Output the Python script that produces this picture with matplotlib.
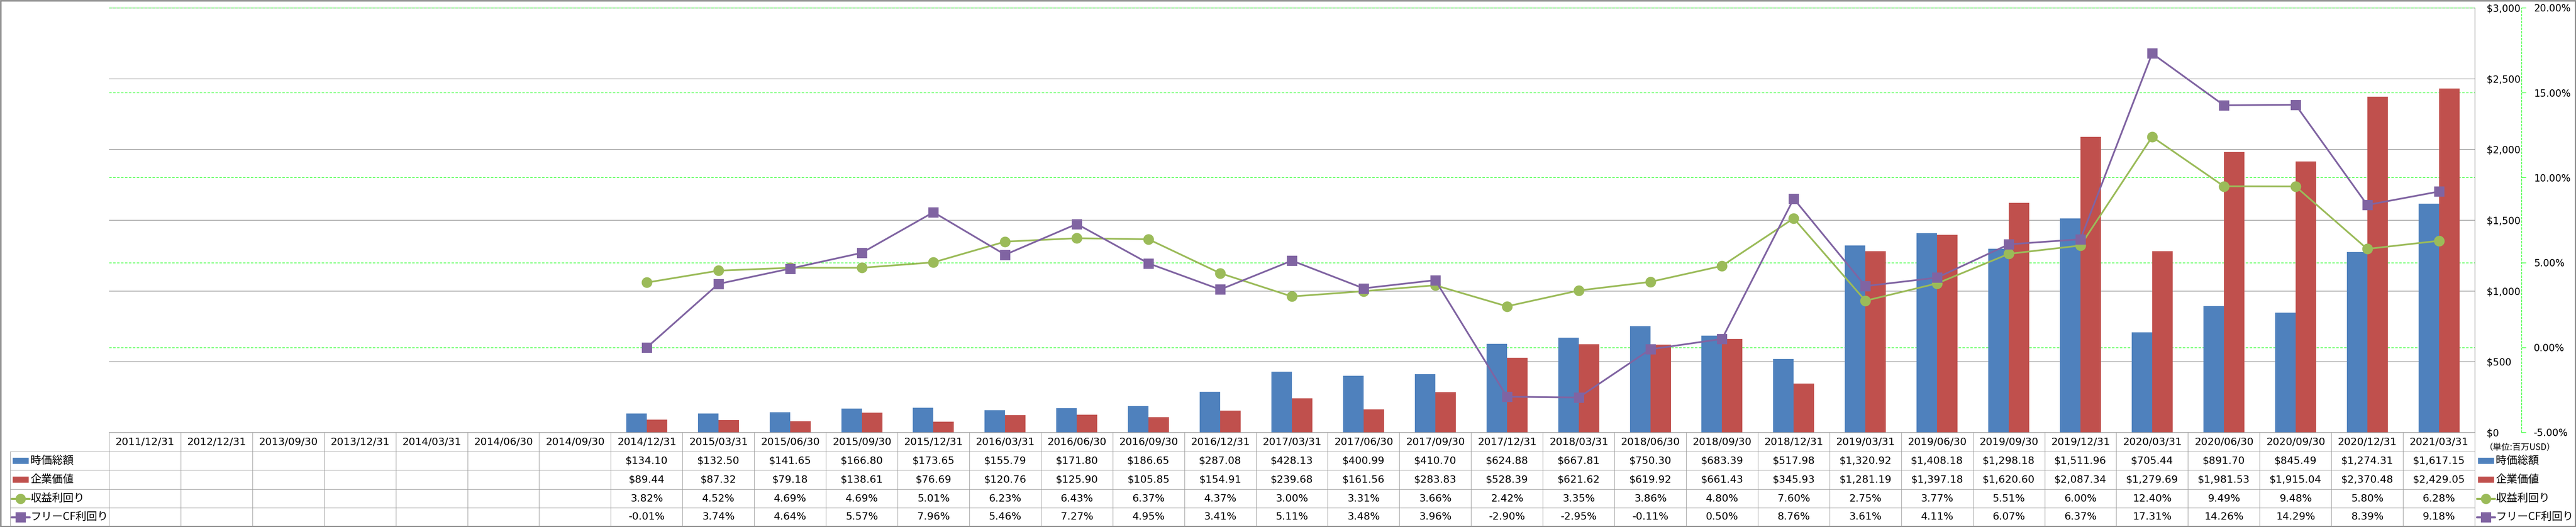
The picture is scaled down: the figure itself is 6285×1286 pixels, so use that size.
import matplotlib
matplotlib.use('Agg')
import matplotlib.pyplot as plt
import numpy as np
from matplotlib import transforms
from matplotlib.lines import Line2D
from matplotlib.patches import Rectangle

# ---------------- data ----------------
dates = ['2011/12/31', '2012/12/31', '2013/09/30', '2013/12/31', '2014/03/31', '2014/06/30', '2014/09/30',
         '2014/12/31', '2015/03/31', '2015/06/30', '2015/09/30', '2015/12/31', '2016/03/31', '2016/06/30',
         '2016/09/30', '2016/12/31', '2017/03/31', '2017/06/30', '2017/09/30', '2017/12/31', '2018/03/31',
         '2018/06/30', '2018/09/30', '2018/12/31', '2019/03/31', '2019/06/30', '2019/09/30', '2019/12/31',
         '2020/03/31', '2020/06/30', '2020/09/30', '2020/12/31', '2021/03/31']
n_empty = 7  # first columns without data

market_cap = [134.10, 132.50, 141.65, 166.80, 173.65, 155.79, 171.80, 186.65, 287.08, 428.13, 400.99,
              410.70, 624.88, 667.81, 750.30, 683.39, 517.98, 1320.92, 1408.18, 1298.18, 1511.96,
              705.44, 891.70, 845.49, 1274.31, 1617.15]
enterprise_value = [89.44, 87.32, 79.18, 138.61, 76.69, 120.76, 125.90, 105.85, 154.91, 239.68, 161.56,
                    283.83, 528.39, 621.62, 619.92, 661.43, 345.93, 1281.19, 1397.18, 1620.60, 2087.34,
                    1279.69, 1981.53, 1915.04, 2370.48, 2429.05]
earnings_yield = [3.82, 4.52, 4.69, 4.69, 5.01, 6.23, 6.43, 6.37, 4.37, 3.00, 3.31, 3.66, 2.42, 3.35,
                  3.86, 4.80, 7.60, 2.75, 3.77, 5.51, 6.00, 12.40, 9.49, 9.48, 5.80, 6.28]
fcf_yield = [-0.01, 3.74, 4.64, 5.57, 7.96, 5.46, 7.27, 4.95, 3.41, 5.11, 3.48, 3.96, -2.90, -2.95,
             -0.11, 0.50, 8.76, 3.61, 4.11, 6.07, 6.37, 17.31, 14.26, 14.29, 8.39, 9.18]

series_names = ['時価総額', '企業価値', '収益利回り', 'フリーCF利回り']
usd_ticks = [0, 500, 1000, 1500, 2000, 2500, 3000]
pct_ticks = [-5, 0, 5, 10, 15, 20]
unit_label = '（単位:百万USD）'

BLUE, RED, GREEN, PURPLE = '#4F81BD', '#C0504D', '#9BBB59', '#8064A2'
GRAY = '#868686'
LIME = '#00FF00'
CJK = ['Noto Sans CJK JP', 'DejaVu Sans']

# ---------------- figure ----------------
W, H, DPI = 6285, 1286, 100
fig = plt.figure(figsize=(W / DPI, H / DPI), dpi=DPI)


def fx(p):
    return p / W


def fy(p):
    return 1 - p / H


def pt(px):
    return px * 72 / DPI


L, R, T, B = 266, 6038, 19, 1055
ax = fig.add_axes([fx(L), fy(B), fx(R) - fx(L), fy(T) - fy(B)])
ax2 = ax.twinx()
ax.set_zorder(1)
ax2.set_zorder(2)
ax2.patch.set_visible(False)

n = len(dates)
x = np.arange(n)
xs = x[n_empty:]
bw = 50 / ((R - L) / n)

ax.bar(xs - bw / 2, market_cap, bw, color=BLUE, zorder=2)
ax.bar(xs + bw / 2, enterprise_value, bw, color=RED, zorder=2)
ax.set_xlim(-0.5, n - 0.5)
ax.set_ylim(0, 3000)
ax.set_yticks(usd_ticks)
ax.set_yticklabels([f'${v:,}' for v in usd_ticks])
ax.yaxis.tick_right()
ax.tick_params(axis='y', length=0, pad=pt(29), labelsize=17)
ax.tick_params(axis='x', length=0, labelbottom=False)
ax.set_xticks([])
ax.grid(axis='y', color=GRAY, lw=pt(1.3))
ax.set_axisbelow(True)
for s in ['left', 'top']:
    ax.spines[s].set_visible(False)
ax.spines['right'].set_color(GRAY)
ax.spines['right'].set_linewidth(pt(1.3))
ax.spines['bottom'].set_color(GRAY)
ax.spines['bottom'].set_linewidth(pt(1.3))

# secondary axis (percent)
ax2.set_ylim(-5, 20)
ax2.set_yticks(pct_ticks)
ax2.set_yticklabels([f'{v:.2f}%' for v in pct_ticks])
ax2.get_yticklabels()[0].set_color('red')
for s in ['left', 'top', 'bottom']:
    ax2.spines[s].set_visible(False)
ax2.spines['right'].set_position(('axes', (6152 - L) / (R - L)))
ax2.spines['right'].set_color(LIME)
ax2.spines['right'].set_linestyle((0, (4, 3)))
ax2.spines['right'].set_linewidth(pt(1.2))
ax2.tick_params(axis='y', direction='out', length=pt(11), color=LIME, width=pt(1.2),
                pad=pt(19), labelsize=17)

# green dashed percent gridlines, below the bars
blend = transforms.blended_transform_factory(ax.transAxes, ax2.transData)
for p in pct_ticks[1:]:
    ax.add_line(Line2D([0, 1], [p, p], transform=blend, color=LIME, ls=(0, (5, 3)),
                       lw=pt(1.2), zorder=1))

ax2.plot(xs, earnings_yield, color=GREEN, lw=pt(4.2), marker='o', ms=pt(26),
         markeredgewidth=0, zorder=3)
ax2.plot(xs, fcf_yield, color=PURPLE, lw=pt(4.2), marker='s', ms=pt(25),
         markeredgewidth=0, zorder=4)

# ---------------- data table ----------------
tx = transforms.blended_transform_factory(ax.transData, fig.transFigure)
TL = '#9a9a9a'
TLW = pt(1.2)
row_tops = [1055, 1102, 1147, 1194, 1239, 1284]
row_centers = [(row_tops[i] + row_tops[i + 1]) / 2 for i in range(5)]

# horizontal lines
fig.add_artist(Line2D([fx(267), fx(R)], [fy(1055), fy(1055)], color=TL, lw=TLW))
for yy in row_tops[1:5]:
    fig.add_artist(Line2D([fx(25), fx(R)], [fy(yy), fy(yy)], color=TL, lw=TLW))
# vertical lines
fig.add_artist(Line2D([fx(25), fx(25)], [fy(1102), fy(1284)], color=TL, lw=TLW))
for i in range(n + 1):
    fig.add_artist(Line2D([i - 0.5, i - 0.5], [fy(1055), fy(1284)], transform=tx,
                          color=TL, lw=TLW))

for i, d in enumerate(dates):
    fig.text(i, fy(row_centers[0]), d, transform=tx, ha='center', va='center', fontsize=18)

rows = [
    [f'${v:,.2f}' for v in market_cap],
    [f'${v:,.2f}' for v in enterprise_value],
    [f'{v:.2f}%' for v in earnings_yield],
    [f'{v:.2f}%' for v in fcf_yield],
]
for r, vals in enumerate(rows):
    for j, s in enumerate(vals):
        fig.text(xs[j], fy(row_centers[r + 1]), s, transform=tx, ha='center', va='center',
                 fontsize=18)


def legend_entry(x0, yc, kind, color, label):
    if kind == 'bar':
        fig.add_artist(Rectangle((fx(x0 + 3), fy(yc + 7.5)), fx(39), 15 / H,
                                 facecolor=color, edgecolor='none'))
    else:
        fig.add_artist(Line2D([fx(x0), fx(x0 + 44)], [fy(yc), fy(yc)], color=color,
                              lw=pt(5), solid_capstyle='round'))
        fig.add_artist(Line2D([fx(x0 + 22)], [fy(yc)], color=color, marker=kind,
                              ms=pt(25), markeredgewidth=0))
    fig.text(fx(x0 + 46), fy(yc), label, ha='left', va='center', fontsize=19, family=CJK)


kinds = ['bar', 'bar', 'o', 's']
colors = [BLUE, RED, GREEN, PURPLE]
for k in range(4):
    legend_entry(28, row_centers[k + 1], kinds[k], colors[k], series_names[k])
    legend_entry(6043, row_centers[k + 1], kinds[k], colors[k], series_names[k])

fig.text(fx(6062), fy(1092), unit_label, ha='left', va='center', fontsize=15, family=CJK)

# outer frame
fig.add_artist(Rectangle((fx(1.5), fy(1284.5)), fx(6282), 1283 / H, facecolor='none',
                         edgecolor=GRAY, lw=pt(3.5)))

fig.savefig('out.png', dpi=DPI)
